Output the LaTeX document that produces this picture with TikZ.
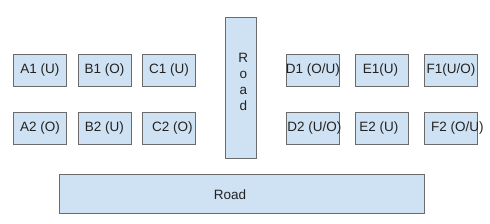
\documentclass[tikz,border=0pt]{standalone}
\usepackage{fontspec}
\setmainfont{Liberation Sans}
\definecolor{boxfill}{HTML}{CFE2F3}
\definecolor{boxline}{HTML}{6B6B6B}
\definecolor{txt}{HTML}{222222}
\begin{document}
\begin{tikzpicture}[x=1pt,y=-1pt,
  lot/.style={draw=boxline,fill=boxfill,line width=0.9pt,minimum width=53pt,minimum height=32pt,inner sep=0pt,anchor=north west},
  lbl/.style={font=\fontsize{13.5}{16}\selectfont,text=txt,inner sep=0pt}]
\useasboundingbox[fill=white] (0,0) rectangle (490,224);
% top row
\node[lot] (A1) at (13,54) {};
\node[lot] (B1) at (77.5,54) {};
\node[lot] (C1) at (142,54) {};
\node[lot] (D1) at (286,54) {};
\node[lot] (E1) at (355,54) {};
\node[lot] (F1) at (424,54) {};
% bottom row
\node[lot] (A2) at (13,112) {};
\node[lot] (B2) at (77.5,112) {};
\node[lot] (C2) at (142,112) {};
\node[lot] (D2) at (286,112) {};
\node[lot] (E2) at (355,112) {};
\node[lot] (F2) at (424,112) {};
% labels
\node[lbl] (tA1) at (A1.center) {A1 (U)};
\node[lbl] (tB1) at (B1.center) {B1 (O)};
\node[lbl] (tC1) at (C1.center) {C1 (U)};
\node[lbl] (tD1) at (D1.center) {D1 (O/U)};
\node[lbl] (tE1) at ([xshift=-1.5pt]E1.center) {E1(U)};
\node[lbl] (tF1) at (F1.center) {F1(U/O)};
\node[lbl] (tA2) at (A2.center) {A2 (O)};
\node[lbl] (tB2) at (B2.center) {B2 (U)};
\node[lbl] (tC2) at ([xshift=3.5pt]C2.center) {C2 (O)};
\node[lbl] (tD2) at ([xshift=1.5pt]D2.center) {D2 (U/O)};
\node[lbl] (tE2) at ([xshift=-3pt]E2.center) {E2 (U)};
\node[lbl] (tF2) at ([xshift=6.5pt]F2.center) {F2 (O/U)};
% roads
\node[draw=boxline,fill=boxfill,line width=0.9pt,minimum width=31.5pt,minimum height=140.5pt,inner sep=0pt,anchor=north west] (RV) at (224.7,17.3) {};
\node[lbl,align=center,font=\fontsize{13.5}{16.2}\selectfont] (tRV) at (243.3,82) {R\\o\\a\\d};
\node[draw=boxline,fill=boxfill,line width=0.9pt,minimum width=365pt,minimum height=39pt,inner sep=0pt,anchor=north west] (RH) at (59,174) {};
\node[lbl] (tRH) at (230,194.5) {Road};
\end{tikzpicture}
\end{document}
